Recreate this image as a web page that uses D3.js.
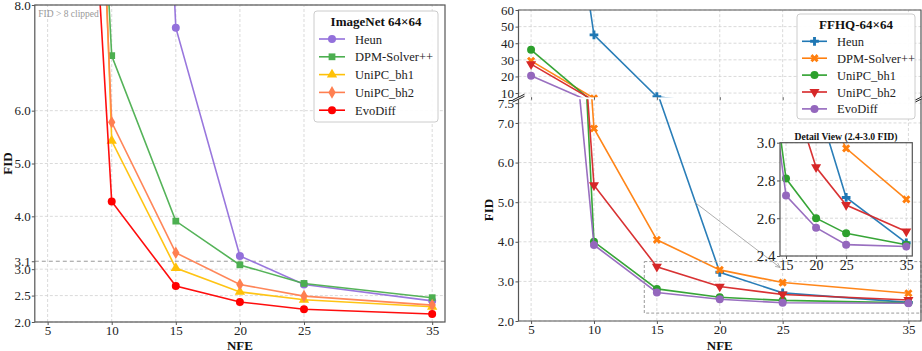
<!DOCTYPE html>
<html>
<head>
<meta charset="utf-8">
<script src="https://cdn.jsdelivr.net/npm/d3@7"></script>
<style>
  body { margin: 0; background: #fff; }
  svg { display: block; font-family: "Liberation Serif", "Times New Roman", serif; }
</style>
</head>
<body>
<svg id="chart" width="922" height="351"></svg>
<script>
// ---- data ----
const nfe = [5, 10, 15, 20, 25, 35];
const xTicks = [5, 10, 15, 20, 25, 35];

// ImageNet 64x64 (left)
const inNames = ["Heun", "DPM-Solver++", "UniPC_bh1", "UniPC_bh2", "EvoDiff"];
const inColors = ["#9370db", "#4caf50", "#ffc107", "#ff7f50", "#ff0000"];
const inMarkers = ["circle", "square", "triangle", "diamond", "circle"];
const inHeun = [null, 34, 7.57, 3.25, 2.71, 2.40];
const inDpm = [30, 7.04, 3.91, 3.08, 2.73, 2.46];
const inBh1 = [40, 5.43, 3.02, 2.57, 2.42, 2.29];
const inBh2 = [34, 5.78, 3.31, 2.71, 2.49, 2.32];
const inEvo = [25, 4.28, 2.68, 2.38, 2.24, 2.15];
const inYTicks = [2.0, 2.5, 3.0, 3.15, 4.0, 5.0, 6.0, 8.0];
const inYLabels = ["2.0", "2.5", "3.0", "3.1", "4.0", "5.0", "6.0", "8.0"];
const inThreshold = 3.15;

// FFHQ 64x64 (right)
const ffNames = ["Heun", "DPM-Solver++", "UniPC_bh1", "UniPC_bh2", "EvoDiff"];
const ffColors = ["#1f77b4", "#ff7f0e", "#2ca02c", "#d62728", "#9467bd"];
const ffMarkers = ["plus", "x", "circle", "tridown", "circle"];
const ffHeun = [300, 45, 7.8, 3.23, 2.71, 2.47];
const ffDpm = [29.4, 6.86, 4.05, 3.29, 2.97, 2.70];
const ffBh1 = [36, 4.0, 2.81, 2.60, 2.52, 2.46];
const ffBh2 = [27.4, 5.43, 3.37, 2.87, 2.67, 2.53];
const ffEvo = [20.4, 3.92, 2.72, 2.55, 2.46, 2.45];
const ffTopTicks = [10, 20, 30, 40, 50, 60];
const ffBottomTicks = [2.0, 3.0, 4.0, 5.0, 6.0, 7.0, 7.5];
const insetYTicks = [2.4, 2.6, 2.8, 3.0];
const insetXTicks = [15, 20, 25, 35];
const zoomBox = { x0: 14, x1: 36, y0: 2.2, y1: 3.5 };
const arrowFrom = [18, 5.0];
const arrowTo = [24.8, 3.35];

const inSeries = [inHeun, inDpm, inBh1, inBh2, inEvo].map((vals, i) => ({
  name: inNames[i], color: inColors[i], marker: inMarkers[i],
  points: nfe.map((n, j) => ({ x: n, y: vals[j] }))
}));
const ffSeries = [ffHeun, ffDpm, ffBh1, ffBh2, ffEvo].map((vals, i) => ({
  name: ffNames[i], color: ffColors[i], marker: ffMarkers[i],
  points: nfe.map((n, j) => ({ x: n, y: vals[j] }))
}));

// ---- helpers ----
const svg = d3.select("#chart");
const defs = svg.append("defs");
const SPINE = "#555";
const GRID = "#d0d0d0";
const FONT = '"Liberation Serif", "Times New Roman", serif';

const symbolMap = {
  circle: [d3.symbolCircle, 0, 50],
  square: [d3.symbolSquare, 0, 46],
  triangle: [d3.symbolTriangle, 0, 46],
  diamond: [d3.symbolDiamond, 0, 46],
  plus: [d3.symbolCross, 0, 42],
  x: [d3.symbolCross, 45, 42],
  tridown: [d3.symbolTriangle, 180, 44]
};
function markerPath(kind) {
  const [t, , s] = symbolMap[kind];
  return d3.symbol().type(t).size(s)();
}

let clipCount = 0;
function addClip(x, y, w, h) {
  const id = "clip" + (clipCount++);
  defs.append("clipPath").attr("id", id)
    .append("rect").attr("x", x).attr("y", y).attr("width", w).attr("height", h);
  return id;
}

function styleAxis(g, size) {
  g.select(".domain").remove();
  g.selectAll(".tick line").attr("stroke", SPINE).attr("stroke-width", 1);
  g.selectAll(".tick text")
    .attr("fill", "#222")
    .style("font-size", size + "px")
    .style("font-family", FONT);
}

function grid(g, x, y, xVals, yVals) {
  g.append("g").selectAll("line").data(xVals).join("line")
    .attr("x1", d => x(d)).attr("x2", d => x(d))
    .attr("y1", y.range()[0]).attr("y2", y.range()[1])
    .attr("stroke", GRID).attr("stroke-width", 0.8).attr("stroke-dasharray", "3,2");
  g.append("g").selectAll("line").data(yVals).join("line")
    .attr("x1", x.range()[0]).attr("x2", x.range()[1])
    .attr("y1", d => y(d)).attr("y2", d => y(d))
    .attr("stroke", GRID).attr("stroke-width", 0.8).attr("stroke-dasharray", "3,2");
}

function drawSeries(g, series, x, y, clipId) {
  const layer = g.append("g").attr("clip-path", `url(#${clipId})`);
  const line = d3.line().defined(d => d.y !== null).x(d => x(d.x)).y(d => y(d.y));
  series.forEach(s => {
    layer.append("path").datum(s.points)
      .attr("d", line).attr("fill", "none")
      .attr("stroke", s.color).attr("stroke-width", 1.6).attr("stroke-opacity", 0.95);
    layer.selectAll(null).data(s.points.filter(d => d.y !== null)).join("path")
      .attr("d", markerPath(s.marker))
      .attr("transform", d => `translate(${x(d.x)},${y(d.y)}) rotate(${symbolMap[s.marker][1]})`)
      .attr("fill", s.color);
  });
}

function legend(g, x0, y0, w, h, title, series, opts) {
  const lg = g.append("g");
  lg.append("rect").attr("x", x0).attr("y", y0).attr("width", w).attr("height", h)
    .attr("rx", 3).attr("fill", "#fff").attr("fill-opacity", 0.92)
    .attr("stroke", "#ccc").attr("stroke-width", 1);
  lg.append("text").attr("x", x0 + w / 2).attr("y", y0 + opts.titleY)
    .attr("text-anchor", "middle").attr("font-weight", "bold")
    .style("font-size", "13px").attr("fill", "#111").text(title);
  series.forEach((s, i) => {
    const cy = y0 + opts.firstY + i * opts.step;
    lg.append("line").attr("x1", x0 + opts.lineX0).attr("x2", x0 + opts.lineX1)
      .attr("y1", cy).attr("y2", cy).attr("stroke", s.color).attr("stroke-width", 1.6);
    lg.append("path").attr("d", markerPath(s.marker))
      .attr("transform", `translate(${x0 + (opts.lineX0 + opts.lineX1) / 2},${cy}) rotate(${symbolMap[s.marker][1]})`)
      .attr("fill", s.color);
    lg.append("text").attr("x", x0 + opts.textX).attr("y", cy + 4.5)
      .style("font-size", "12.5px").attr("fill", "#222").text(s.name);
  });
}

// ================= LEFT: ImageNet =================
{
  const x = d3.scaleLinear().domain([4, 36]).range([34.8, 445]);
  const y = d3.scaleLinear().domain([2, 8]).range([322, 5]);
  const g = svg.append("g");
  grid(g, x, y, xTicks, inYTicks.filter(v => v !== inThreshold));

  g.append("line")
    .attr("x1", x.range()[0]).attr("x2", x.range()[1])
    .attr("y1", y(inThreshold)).attr("y2", y(inThreshold))
    .attr("stroke", "#999").attr("stroke-width", 1).attr("stroke-dasharray", "4,3");

  const clip = addClip(x.range()[0], y.range()[1], x.range()[1] - x.range()[0], y.range()[0] - y.range()[1]);
  drawSeries(g, inSeries, x, y, clip);

  g.append("rect").attr("x", x.range()[0]).attr("y", y.range()[1])
    .attr("width", x.range()[1] - x.range()[0]).attr("height", y.range()[0] - y.range()[1])
    .attr("fill", "none").attr("stroke", SPINE).attr("stroke-width", 1.2);

  g.append("g").attr("transform", `translate(0,${y.range()[0]})`)
    .call(d3.axisBottom(x).tickValues(xTicks).tickSize(3).tickPadding(1))
    .call(a => styleAxis(a, 13));
  g.append("g").attr("transform", `translate(${x.range()[0]},0)`)
    .call(d3.axisLeft(y).tickValues(inYTicks).tickFormat((d, i) => inYLabels[i]).tickSize(3).tickPadding(1))
    .call(a => styleAxis(a, 13));

  g.append("text").attr("x", x.range()[0] + 3.5).attr("y", 17)
    .style("font-size", "9.5px").attr("fill", "#999").text("FID > 8 clipped");

  g.append("text").attr("x", (x.range()[0] + x.range()[1]) / 2).attr("y", 349.5)
    .attr("text-anchor", "middle").attr("font-weight", "bold").style("font-size", "13px")
    .attr("fill", "#111").text("NFE");
  g.append("text").attr("transform", `translate(11.5,${(y.range()[0] + y.range()[1]) / 2}) rotate(-90)`)
    .attr("text-anchor", "middle").attr("font-weight", "bold").style("font-size", "13px")
    .attr("fill", "#111").text("FID");

  legend(g, 314, 11, 124, 111, "ImageNet 64×64", inSeries,
    { titleY: 15, firstY: 28, step: 17.8, lineX0: 5, lineX1: 31, textX: 41 });
}

// ================= RIGHT: FFHQ =================
{
  const x = d3.scaleLinear().domain([4, 36]).range([518.5, 921]);
  const yTop = d3.scaleLinear().domain([7.5, 60]).range([97.2, 10]);
  const yBot = d3.scaleLinear().domain([2, 7.6]).range([321, 99.2]);
  const g = svg.append("g");
  const [xl, xr] = x.range();

  // top panel
  grid(g, x, yTop, xTicks, ffTopTicks);
  const clipTop = addClip(xl, yTop.range()[1], xr - xl, yTop.range()[0] - yTop.range()[1]);
  drawSeries(g, ffSeries, x, yTop, clipTop);
  g.append("path")
    .attr("d", `M${xl},${yTop.range()[0]}V${yTop.range()[1]}H${xr}V${yTop.range()[0]}`)
    .attr("fill", "none").attr("stroke", SPINE).attr("stroke-width", 1.2);
  g.append("g").attr("transform", `translate(${xl},0)`)
    .call(d3.axisLeft(yTop).tickValues(ffTopTicks).tickFormat(d3.format("d")).tickSize(3).tickPadding(1.5))
    .call(a => styleAxis(a, 13));
  g.append("g").attr("transform", `translate(0,${yTop.range()[0]})`)
    .call(d3.axisBottom(x).tickValues(xTicks).tickFormat("").tickSize(3))
    .call(a => styleAxis(a, 13));

  // bottom panel
  grid(g, x, yBot, xTicks, ffBottomTicks);
  const clipBot = addClip(xl, yBot.range()[1], xr - xl, yBot.range()[0] - yBot.range()[1]);
  drawSeries(g, ffSeries, x, yBot, clipBot);

  // zoom box + arrow
  g.append("rect")
    .attr("x", x(zoomBox.x0)).attr("y", yBot(zoomBox.y1))
    .attr("width", x(zoomBox.x1) - x(zoomBox.x0)).attr("height", yBot(zoomBox.y0) - yBot(zoomBox.y1))
    .attr("fill", "none").attr("stroke", "#999").attr("stroke-width", 1).attr("stroke-dasharray", "3,2");
  defs.append("marker").attr("id", "arrowHead")
    .attr("viewBox", "0 0 10 10").attr("refX", 9).attr("refY", 5)
    .attr("markerWidth", 7).attr("markerHeight", 7).attr("orient", "auto")
    .append("path").attr("d", "M0,1L9,5L0,9").attr("fill", "none").attr("stroke", "#999").attr("stroke-width", 1.2);
  g.append("line")
    .attr("x1", x(arrowFrom[0])).attr("y1", yBot(arrowFrom[1]))
    .attr("x2", x(arrowTo[0])).attr("y2", yBot(arrowTo[1]))
    .attr("stroke", "#999").attr("stroke-width", 0.8).attr("marker-end", "url(#arrowHead)");

  g.append("path")
    .attr("d", `M${xl},${yBot.range()[1]}V${yBot.range()[0]}H${xr}V${yBot.range()[1]}`)
    .attr("fill", "none").attr("stroke", SPINE).attr("stroke-width", 1.2);
  g.append("g").attr("transform", `translate(${xl},0)`)
    .call(d3.axisLeft(yBot).tickValues(ffBottomTicks).tickFormat(d3.format(".1f")).tickSize(3).tickPadding(1.5))
    .call(a => styleAxis(a, 13));
  g.append("g").attr("transform", `translate(0,${yBot.range()[0]})`)
    .call(d3.axisBottom(x).tickValues(xTicks).tickSize(3).tickPadding(1))
    .call(a => styleAxis(a, 13));

  // break marks
  const bm = [[xl, yTop.range()[0]], [xl, yBot.range()[1]], [xr, yTop.range()[0]], [xr, yBot.range()[1]]];
  g.append("g").selectAll("line").data(bm).join("line")
    .attr("x1", d => d[0] - 6).attr("y1", d => d[1] + 3)
    .attr("x2", d => d[0] + 6).attr("y2", d => d[1] - 3)
    .attr("stroke", "#222").attr("stroke-width", 1);

  g.append("text").attr("x", (xl + xr) / 2).attr("y", 349.5)
    .attr("text-anchor", "middle").attr("font-weight", "bold").style("font-size", "13px")
    .attr("fill", "#111").text("NFE");
  g.append("text").attr("transform", `translate(493,${(yBot.range()[0] + yBot.range()[1]) / 2}) rotate(-90)`)
    .attr("text-anchor", "middle").attr("font-weight", "bold").style("font-size", "13px")
    .attr("fill", "#111").text("FID");

  legend(g, 797, 14, 118, 105, "FFHQ-64×64", ffSeries,
    { titleY: 15, firstY: 27.3, step: 16.9, lineX0: 5, lineX1: 30, textX: 40 });

  // inset
  const ix = d3.scaleLinear().domain([14, 36]).range([780, 912.3]);
  const iy = d3.scaleLinear().domain([2.4, 3.0]).range([256, 142.7]);
  const ig = g.append("g");
  ig.append("rect").attr("x", 780).attr("y", 142.7).attr("width", 132.3).attr("height", 113.3).attr("fill", "#fff");
  grid(ig, ix, iy, insetXTicks, insetYTicks);
  const clipIn = addClip(780, 142.7, 132.3, 113.3);
  drawSeries(ig, ffSeries, ix, iy, clipIn);
  ig.append("rect").attr("x", 780).attr("y", 142.7).attr("width", 132.3).attr("height", 113.3)
    .attr("fill", "none").attr("stroke", SPINE).attr("stroke-width", 1.2);
  ig.append("g").attr("transform", `translate(780,0)`)
    .call(d3.axisLeft(iy).tickValues(insetYTicks).tickFormat(d3.format(".1f")).tickSize(3).tickPadding(1.5))
    .call(a => styleAxis(a, 15));
  ig.append("g").attr("transform", `translate(0,256)`)
    .call(d3.axisBottom(ix).tickValues(insetXTicks).tickSize(3).tickPadding(1))
    .call(a => styleAxis(a, 14));
  ig.append("text").attr("x", 846).attr("y", 139.5).attr("text-anchor", "middle")
    .attr("font-weight", "bold").style("font-size", "9.7px").attr("fill", "#111")
    .text("Detail View (2.4-3.0 FID)");
}
</script>
</body>
</html>
